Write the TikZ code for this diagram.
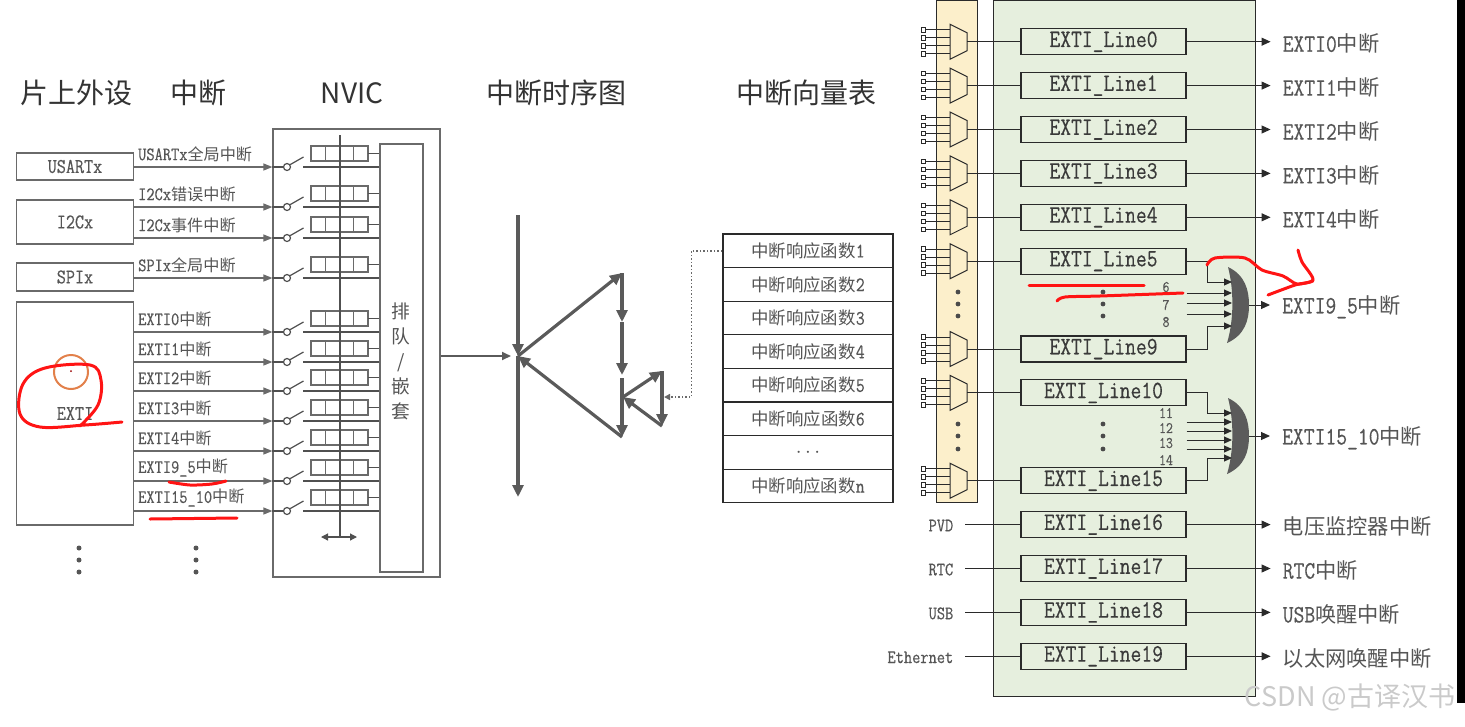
\documentclass[tikz,border=0pt]{standalone}
\usepackage{fontspec}
\setmainfont[FakeStretch=0.84,FakeBold=0.4]{Latin Modern Mono}
\newfontfamily\cjk[Scale=0.85]{Noto Sans CJK SC}
\newfontfamily\ttlfont{Noto Sans CJK SC}
\newcommand\zh[1]{{\cjk #1}}
\newcommand\fs[1]{\fontsize{#1}{#1}\selectfont}
\usetikzlibrary{arrows.meta,calc,positioning}
\definecolor{gry}{HTML}{6A6A6A}
\definecolor{txt}{HTML}{555555}
\definecolor{ttl}{HTML}{333333}
\definecolor{nvc}{HTML}{505050}
\definecolor{tl}{HTML}{5A5A5A}
\definecolor{ylw}{HTML}{FCEFCB}
\definecolor{grn}{HTML}{E6EFDE}
\definecolor{drk}{HTML}{2A2A2A}
\definecolor{dtx}{HTML}{3A3A3A}
\definecolor{gate}{HTML}{5B5B5B}
\definecolor{dotc}{HTML}{4A4A4A}
\definecolor{redpen}{HTML}{FF1414}
\definecolor{orng}{HTML}{E2804A}
\definecolor{wm}{HTML}{CACACA}
\def\orgate(#1,#2){\fill[gate] (#1-21,#2-38) .. controls (#1-4,#2-30) and (#1,#2-15) .. (#1,#2) .. controls (#1,#2+15) and (#1-4,#2+30) .. (#1-22,#2+38) .. controls (#1-15,#2+15) and (#1-15,#2-15) .. cycle;}

\begin{document}
\begin{tikzpicture}[x=1pt,y=-1pt,
    every node/.style={inner sep=0pt},
    title/.style={font=\ttlfont\fs{28}, text=ttl},
    pbox/.style={draw=gry, line width=1.2pt, minimum width=117pt, text=txt, font=\fs{21}},
    ilab/.style={anchor=west, text=txt, font=\fs{19}},
    garrow/.style={draw=gry, line width=1.2pt, -{Triangle[length=9pt,width=7pt]}},
    nline/.style={draw=nvc, line width=1.2pt},
    tline/.style={draw=tl, line width=3.2pt, -{Triangle[length=12pt,width=11pt]}},
    vrow/.style={draw=drk, line width=1.2pt, fill=white, minimum width=170pt, minimum height=33.6pt, font=\fs{20.5}, text=txt},
    lbox/.style={draw=drk, fill=grn, line width=1.1pt, minimum width=165pt, minimum height=26pt, font=\fs{25}, text=dtx},
    olab/.style={anchor=west, font=\fs{25}, text=txt},
    darrow/.style={draw=drk, line width=1pt, -{Triangle[length=9pt,width=8pt]}},
    iarrow/.style={draw=drk, line width=1pt, -{Triangle[length=8pt,width=7pt]}},
    dline/.style={draw=drk, line width=1pt},
    scrib/.style={draw=redpen, line width=3pt, line cap=round, line join=round}]
  %%%%% START %%%%%
  \useasboundingbox (0,0) rectangle (1465,726);

  \node[title] (t1) at (76,93) {片上外设};
  \node[title] (t2) at (198,93) {中断};
  \node[title] (t3) at (352,93) {NVIC};
  \node[title] (t4) at (556,93) {中断时序图};
  \node[title] (t5) at (806,93) {中断向量表};

  % peripherals
  \node[pbox, minimum height=27pt] (usart) at (75,166.5) {USARTx};
  \node[pbox, minimum height=44pt] (i2c) at (75,222) {I2Cx};
  \node[pbox, minimum height=28pt] (spi) at (75,277) {SPIx};
  \node[pbox, minimum height=223pt] (exti) at (75,413.5) {EXTI};

  % nvic
  \node[draw=gry, line width=1.2pt, minimum width=167pt, minimum height=448pt] (nvic) at (356.5,353) {};
  \node[draw=gry, line width=1.2pt, minimum width=43pt, minimum height=428pt] (queue) at (401.5,358) {};
  \node[text=txt, font=\cjk\fs{22}, align=center] (qlab) at (401,361) {排\\[3pt]队\\[3pt]/\\[3pt]嵌\\[3pt]套};

  \foreach \y/\src/\lab [count=\i] in {167/usart/{USARTx\zh{全局中断}}, 207/i2c/{I2Cx\zh{错误中断}},
      238/i2c/{I2Cx\zh{事件中断}}, 278/spi/{SPIx\zh{全局中断}}, 332/exti/{EXTI0\zh{中断}},
      362/exti/{EXTI1\zh{中断}}, 391/exti/{EXTI2\zh{中断}}, 421/exti/{EXTI3\zh{中断}},
      451/exti/{EXTI4\zh{中断}}, 481/exti/{EXTI9\_5\zh{中断}}, 511/exti/{EXTI15\_10\zh{中断}}}{
    \coordinate (sw\i) at (287,\y);
    \node[ilab] (il\i) at (138,\y-13) {\lab};
    \draw[garrow] (\src.east |- sw\i) -- (nvic.west |- sw\i);
    \draw[nline] (nvic.west |- sw\i) -- ([xshift=-3.5pt]sw\i);
    \draw[nline] ($(sw\i)+(2.5,-2)$) -- ++(14,-8);
    \draw[nline] ($(sw\i)+(16,0)$) -- (queue.west |- sw\i);
    \foreach \c in {0,...,3}
      \draw[draw=gry, line width=1.1pt] (311+14.25*\c,\y-21) rectangle ++(14.25,15);
    \draw[nline] (368,\y-13.5) -- ($(queue.west |- sw\i)+(0,-13.5)$);
    \draw[nline, fill=white] (sw\i) circle (3.5pt);
  }
  \draw[nline] (340,135) -- (340,537);
  \draw[nline, {Triangle[length=7pt,width=7pt]}-{Triangle[length=7pt,width=7pt]}] (321,537) -- (357,537);

  \foreach \yy in {548,560,572} {
    \fill[txt] (79,\yy) circle (2.5pt);
    \fill[txt] (196,\yy) circle (2.5pt);
  }

  % timing
  \coordinate (P) at (518,356);
  \coordinate (T0) at (518,215);
  \coordinate (Tb) at (518,497);
  \coordinate (A) at (622,273);
  \coordinate (A1) at (622,322);
  \coordinate (A2) at (622,375);
  \coordinate (A3) at (622,378);
  \coordinate (B) at (622,437);
  \coordinate (C) at (623,397);
  \coordinate (D) at (662,371);
  \coordinate (D1) at (662,426);
  \draw[draw=tl, line width=2pt, -{Triangle[length=9pt,width=8pt]}, shorten >=7pt] (nvic.east |- P) -- (P);
  \draw[tline] (T0) -- (P);
  \draw[tline] (P) -- (Tb);
  \draw[tline] (P) -- (A);
  \draw[tline] (A) -- (A1);
  \draw[tline] (A1) -- (A2);
  \draw[tline] (A3) -- (B);
  \draw[tline] (B) -- (P);
  \draw[tline] (C) -- (D);
  \draw[tline] (D) -- (D1);
  \draw[tline] (D1) -- (C);

  % vector table
  \foreach \t [count=\i] in {\zh{中断响应函数}1, \zh{中断响应函数}2, \zh{中断响应函数}3, \zh{中断响应函数}4,
      \zh{中断响应函数}5, \zh{中断响应函数}6, $\cdots$, \zh{中断响应函数}n}
    \node[vrow] (vt\i) at (808,234+33.6*\i-16.8) {\t};
  \coordinate (dotend) at (664,397);
  \draw[draw=gry, line width=1.5pt, dotted, -{Triangle[length=6pt,width=6pt]}] (vt1.west) -- ++(-31,0) |- (dotend);

  % exti panel
  \draw[draw=drk, line width=1pt, fill=ylw] (936,0.5) rectangle (977,502);
  \draw[draw=drk, line width=1pt, fill=grn] (993,0.5) rectangle (1255,696);

  \foreach \n/\k in {0/0,1/1,2/2,3/3,4/4,5/5,9/7,10/8,15/10,16/11,17/12,18/13,19/14}
    \node[lbox] (L\n) at (1103.5,41.7+43.9*\k) {\raisebox{-2.5pt}{EXTI\_Line\n}};

  \foreach \n/\k in {0/0,1/1,2/2,3/3,4/4,5/5,9/7,10/8,15/10} {
    \pgfmathsetmacro\yy{41.7+43.9*\k}
    \draw[dline, fill=ylw] (950,\yy-17.5) -- (967,\yy-9) -- (967,\yy+9) -- (950,\yy+17.5) -- cycle;
    \coordinate (mx\n) at (967,\yy);
    \draw[dline] (mx\n) -- (L\n.west);
    \foreach \o in {-12,-4,4,12} {
      \draw[dline] (926,\yy+\o) -- (950,\yy+\o);
      \draw[draw=drk, line width=0.9pt, fill=white] (921,\yy+\o-2.3) rectangle ++(4.6,4.6);
    }
  }

  \foreach \n/\lab in {0/{EXTI0\zh{中断}}, 1/{EXTI1\zh{中断}}, 2/{EXTI2\zh{中断}}, 3/{EXTI3\zh{中断}},
      4/{EXTI4\zh{中断}}, 16/{\zh{电压监控器中断}}, 17/{RTC\zh{中断}}, 18/{USB\zh{唤醒中断}},
      19/{\zh{以太网唤醒中断}}} {
    \node[olab] (o\n) at ($(L\n.east)+(96,2)$) {\lab};
    \draw[darrow, shorten >=12pt] (L\n.east) -- (o\n.west |- L\n.east);
  }

  \foreach \n/\lab in {16/PVD, 17/RTC, 18/USB, 19/Ethernet} {
    \node[anchor=east, font=\fs{19}, text=txt] (s\n) at ($(L\n.west)+(-67,1)$) {\lab};
    \draw[dline] ([xshift=12pt]s\n.east |- L\n.west) -- (L\n.west);
  }

  % or gates
  \orgate(1249,305)
  \orgate(1249,436)
  \coordinate (g1) at (1249,305);
  \coordinate (g2) at (1249,436);
  \foreach \yy [count=\j] in {282,293,303,314,326} \coordinate (ga\j) at (1232,\yy);
  \foreach \yy [count=\j] in {413,422,431,440,449,458} \coordinate (gb\j) at (1232,\yy);
  \draw[iarrow] (L5.east) -- ++(21,0) |- (ga1);
  \foreach \j in {2,3,4} \draw[iarrow] (ga\j -| L5.east) -- (ga\j);
  \draw[iarrow] (L9.east) -- ++(21,0) |- (ga5);
  \draw[iarrow] (L10.east) -- ++(21,0) |- (gb1);
  \foreach \j in {2,...,5} \draw[iarrow] (gb\j -| L10.east) -- (gb\j);
  \draw[iarrow] (L15.east) -- ++(21,0) |- (gb6);
  \foreach \lab/\yy in {6/287, 7/305, 8/322, 11/413, 12/428, 13/443, 14/460}
    \node[font=\fs{16}, text=txt] (n\lab) at (1166,\yy) {\lab};
  \node[olab] (o95) at (1282,307) {EXTI9\_5\zh{中断}};
  \node[olab] (o1510) at (1282,438) {EXTI15\_10\zh{中断}};
  \draw[darrow, shorten >=12pt] (g1) -- (o95.west |- g1);
  \draw[darrow, shorten >=12pt] (g2) -- (o1510.west |- g2);

  \foreach \yy in {292,304,316,424,436,449} {
    \fill[dotc] (1103,\yy) circle (2.4pt);
    \fill[dotc] (958,\yy) circle (2.4pt);
  }

  % pen marks
  \draw[draw=orng, line width=2pt] (71,372) circle (17pt);
  \fill[red!60!black] (71,371) circle (1pt);
  \draw[scrib] plot[smooth, tension=0.6] coordinates {(122,422) (85,425) (40,427) (20,414) (23,384) (45,368) (90,365) (101,380) (98,405) (80,426)};
  \draw[scrib] plot[smooth] coordinates {(169,482) (190,485) (212,484) (226,481)};
  \draw[scrib] (150,519) -- (237,518);
  \draw[scrib] (1029,285) -- (1144,285);
  \draw[scrib] plot[smooth] coordinates {(1057,301) (1065,297) (1100,296) (1183,293)};
  \draw[scrib] plot[smooth] coordinates {(1207,265) (1215,258) (1245,258) (1262,270) (1283,276) (1297,284) (1313,281)};
  \draw[scrib] plot[smooth] coordinates {(1298,250) (1302,262) (1313,280) (1295,285) (1268,295)};

  \node[font=\ttlfont\fs{27}, text=wm] (wmk) at (1350,697) {CSDN @古译汉书};
  \fill[black] (1457,0) rectangle (1465,703);
  %%%%% END %%%%%
\end{tikzpicture}
\end{document}
